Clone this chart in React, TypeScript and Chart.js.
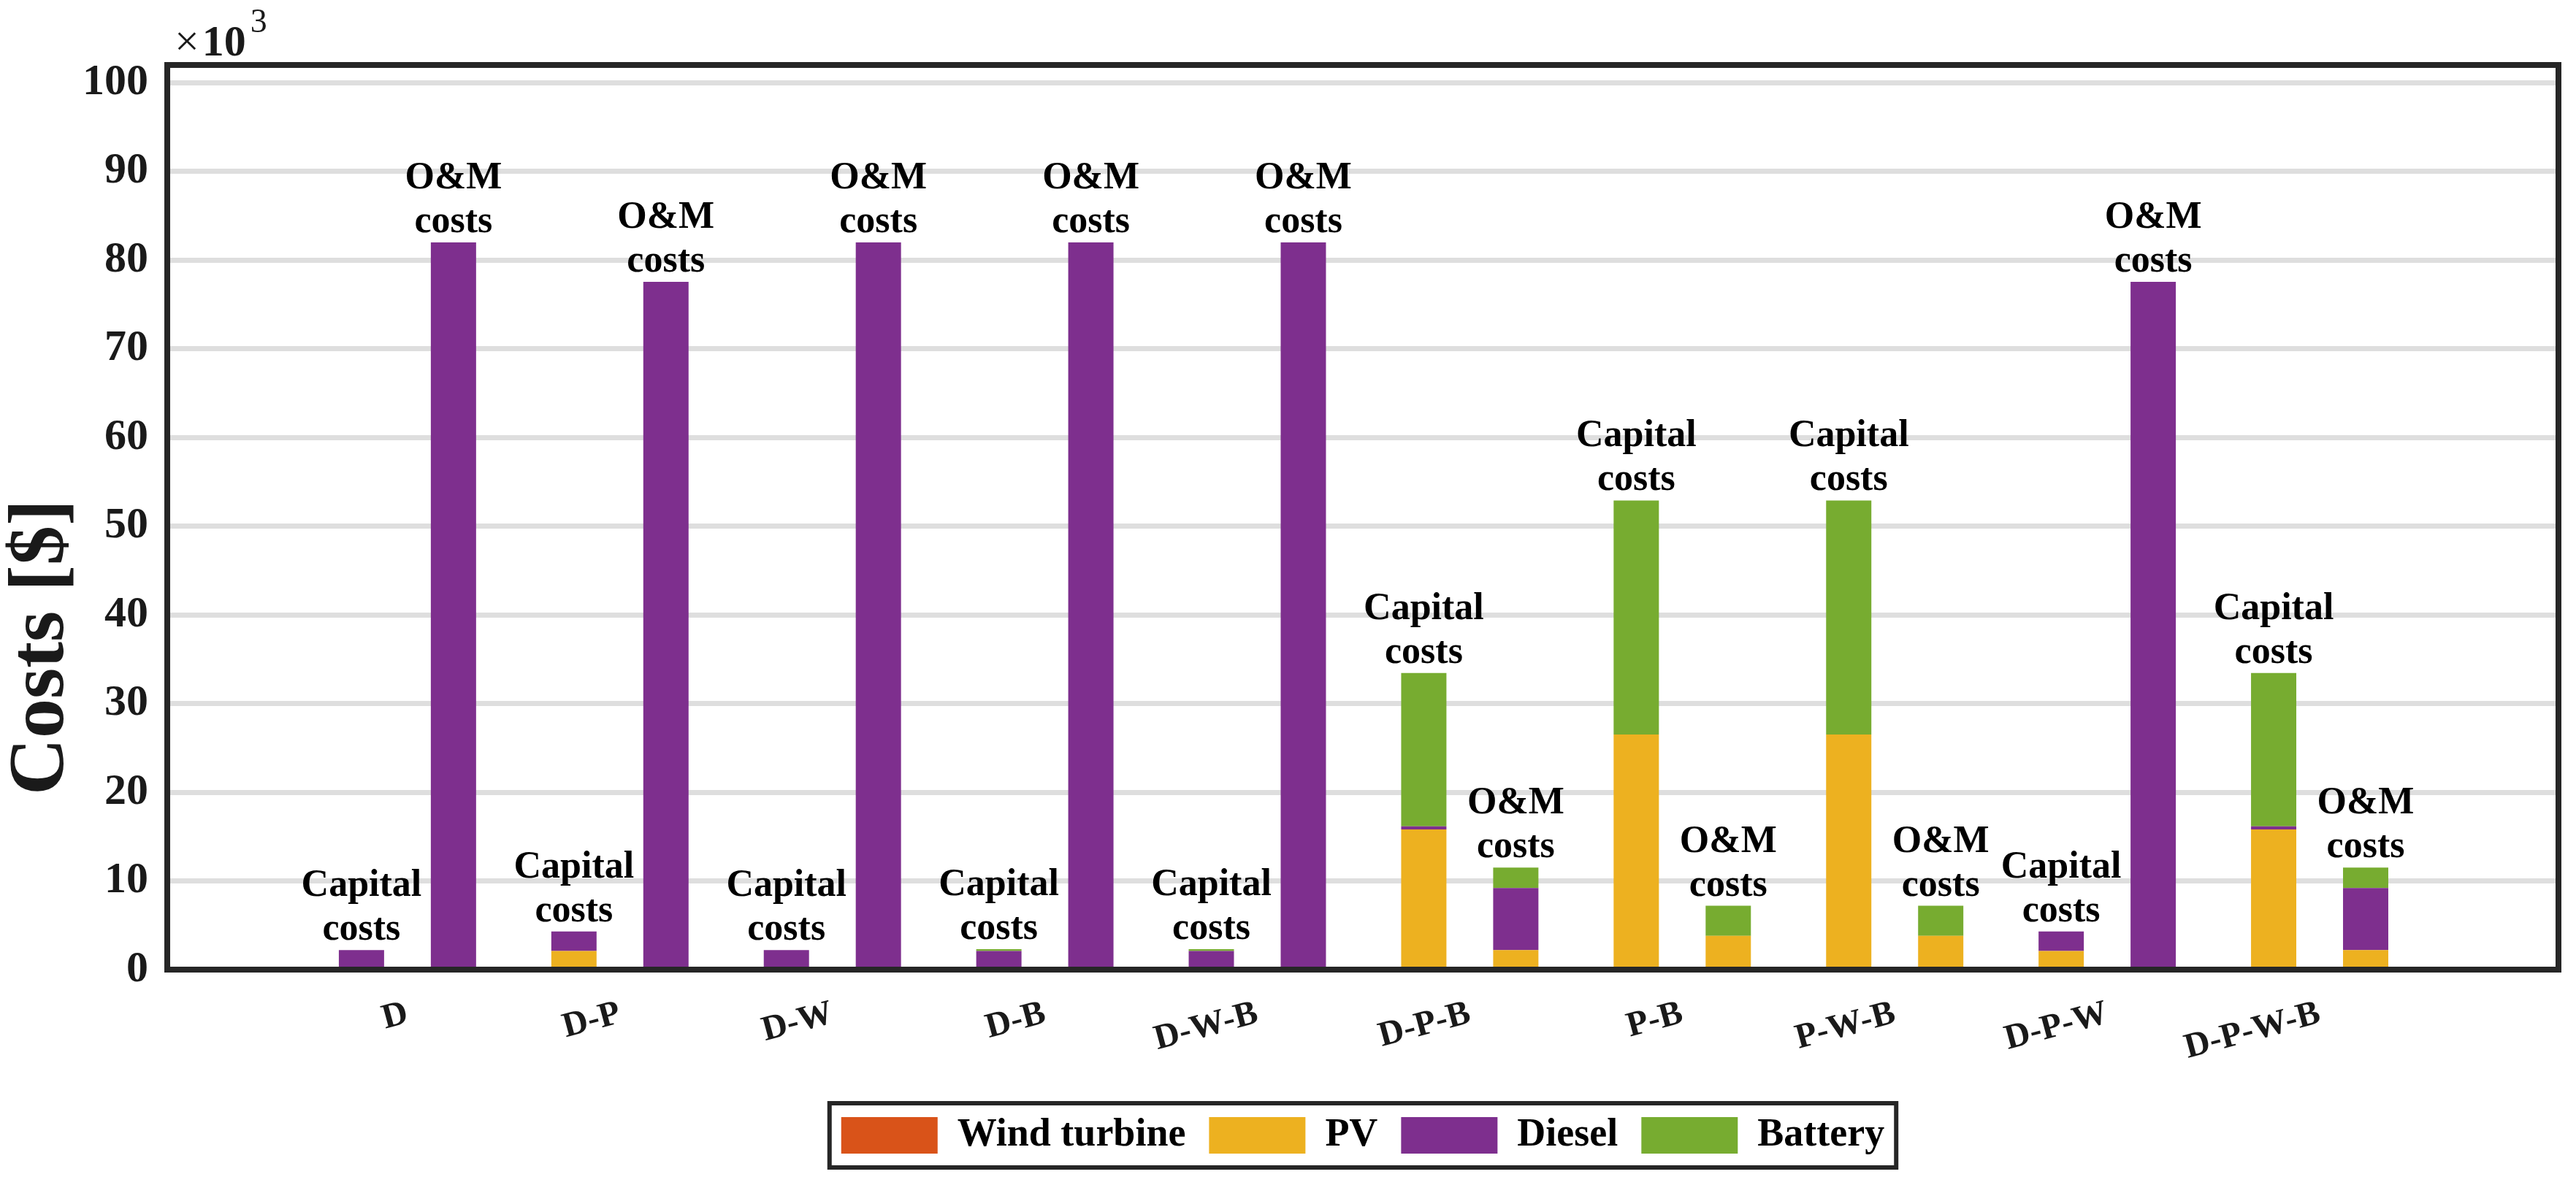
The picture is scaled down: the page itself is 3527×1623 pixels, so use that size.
import React, { useEffect, useRef } from "react";
import { Chart, registerables } from "chart.js";

Chart.register(...registerables);

// ---------- data (values in ×10^3 $) ----------
const groups = ["D", "D-P", "D-W", "D-B", "D-W-B", "D-P-B", "P-B", "P-W-B", "D-P-W", "D-P-W-B"];
const barLabels = ["Capital costs", "O&M costs"];
const components = ["Wind turbine", "PV", "Diesel", "Battery"];
const componentColors = ["#D95319", "#EDB120", "#7E2F8E", "#77AC30"];

const capWind = [0, 0, 0, 0, 0, 0, 0, 0, 0, 0];
const capPV = [0, 2.1, 0, 0, 0, 15.8, 26.5, 26.5, 2.1, 15.8];
const capDiesel = [2.2, 2.2, 2.2, 2.1, 2.1, 0.35, 0, 0, 2.2, 0.35];
const capBattery = [0, 0, 0, 0.2, 0.2, 17.3, 26.4, 26.4, 0, 17.3];

const omWind = [0, 0, 0, 0, 0, 0, 0, 0, 0, 0];
const omPV = [0, 0.25, 0, 0, 0, 2.2, 3.8, 3.8, 0.25, 2.2];
const omDiesel = [82, 77.3, 82, 82, 82, 7.0, 0, 0, 77.3, 7.0];
const omBattery = [0, 0, 0, 0, 0, 2.3, 3.4, 3.4, 0, 2.3];

const yTicks = [0, 10, 20, 30, 40, 50, 60, 70, 80, 90, 100];
const yTitle = "Costs [$]";
const yExponent = "3";

const SERIF = "'Liberation Serif', 'Times New Roman', serif";
const INK = "#1a1a1a";

const capSeries = [capWind, capPV, capDiesel, capBattery];
const omSeries = [omWind, omPV, omDiesel, omBattery];

const framePlugin = {
  id: "frame",
  afterDraw(chart: any) {
    const { ctx, chartArea } = chart;
    const { left, top, right, bottom } = chartArea;
    ctx.save();
    ctx.strokeStyle = "#262626";
    ctx.lineWidth = 8;
    ctx.strokeRect(left, top, right - left, bottom - top);

    // exponent label
    ctx.fillStyle = INK;
    ctx.textBaseline = "alphabetic";
    ctx.textAlign = "left";
    ctx.font = `normal 60px ${SERIF}`;
    const xs = left + 10;
    const base = top - 13;
    ctx.fillText("\u00d7", xs, base);
    const w1 = ctx.measureText("\u00d7").width;
    ctx.font = `bold 60px ${SERIF}`;
    ctx.fillText("10", xs + w1 + 4, base);
    const w2 = ctx.measureText("10").width;
    ctx.font = `normal 46px ${SERIF}`;
    ctx.fillText(yExponent, xs + w1 + 4 + w2 + 6, base - 32);

    // y title
    ctx.save();
    ctx.translate(58, (top + bottom) / 2 + 178);
    ctx.rotate(-Math.PI / 2);
    ctx.font = `bold 108px ${SERIF}`;
    ctx.textAlign = "center";
    ctx.textBaseline = "middle";
    ctx.fillText(yTitle, 0, 0);
    ctx.restore();

    // legend border
    const lg = chart.legend;
    if (lg && lg.legendHitBoxes && lg.legendHitBoxes.length) {
      const hb = lg.legendHitBoxes;
      const l = hb[0].left - 16;
      const last = hb[hb.length - 1];
      const r = last.left + last.width + 16;
      const t = hb[0].top - 17;
      const b = hb[0].top + hb[0].height + 17;
      ctx.lineWidth = 6;
      ctx.strokeStyle = "#262626";
      ctx.strokeRect(l, t, r - l, b - t);
    }
    ctx.restore();
  },
};

const barLabelPlugin = {
  id: "barLabels",
  afterDatasetsDraw(chart: any) {
    const { ctx } = chart;
    const yScale = chart.scales.y;
    ctx.save();
    ctx.fillStyle = "#000";
    ctx.font = `bold 52px ${SERIF}`;
    ctx.textAlign = "center";
    ctx.textBaseline = "alphabetic";
    [capSeries, omSeries].forEach((series, s) => {
      const meta = chart.getDatasetMeta(s * components.length);
      const words = barLabels[s].split(" ");
      groups.forEach((_, i) => {
        const total = series.reduce((acc, arr) => acc + arr[i], 0);
        const el = meta.data[i];
        if (!el) return;
        const x = el.x;
        const yTop = yScale.getPixelForValue(total);
        const lh = 60;
        for (let k = 0; k < words.length; k++) {
          const y = yTop - 14 - (words.length - 1 - k) * lh;
          ctx.fillText(words[k], x, y);
        }
      });
    });
    ctx.restore();
  },
};

export default function App() {
  const canvasRef = useRef<HTMLCanvasElement | null>(null);

  useEffect(() => {
    if (!canvasRef.current) return;
    const datasets: any[] = [];
    [capSeries, omSeries].forEach((series, s) => {
      series.forEach((arr, k) => {
        datasets.push({
          label: components[k],
          data: arr.map((v, i) => ({ x: i + 1, y: v })),
          stack: s === 0 ? "capital" : "om",
          backgroundColor: componentColors[k],
          borderWidth: 0,
          categoryPercentage: 0.866,
          barPercentage: 0.492,
        });
      });
    });

    const chart = new Chart(canvasRef.current, {
      type: "bar",
      data: { datasets },
      options: {
        animation: false,
        responsive: true,
        maintainAspectRatio: false,
        devicePixelRatio: 1,
        layout: { padding: { top: 89, right: 24, left: 0, bottom: 31 } },
        plugins: {
          legend: {
            position: "bottom",
            fullSize: false,
            labels: {
              boxWidth: 132,
              boxHeight: 50,
              padding: 32,
              color: "#000",
              font: { family: SERIF, size: 54, weight: "bold" },
              filter: (item: any) => item.datasetIndex < components.length,
            },
          },
          tooltip: { enabled: false },
        },
        scales: {
          x: {
            type: "linear",
            offset: false,
            min: -0.1306,
            max: 11.124,
            stacked: true,
            grid: { display: false },
            border: { display: false },
            afterBuildTicks: (scale: any) => {
              scale.ticks = groups.map((_, i) => ({ value: i + 1 }));
            },
            afterFit: (scale: any) => {
              scale.height = 168;
            },
            ticks: {
              autoSkip: false,
              minRotation: 15,
              maxRotation: 15,
              padding: 24,
              color: INK,
              font: { family: SERIF, size: 48, weight: "bold" },
              callback: (v: any) => groups[Math.round(v) - 1] ?? "",
            },
          },
          y: {
            type: "linear",
            min: 0,
            max: 102,
            stacked: true,
            border: { display: false },
            grid: { color: "#dedede", lineWidth: 7, drawTicks: false },
            afterBuildTicks: (scale: any) => {
              scale.ticks = yTicks.map((v) => ({ value: v }));
            },
            afterFit: (scale: any) => {
              scale.width = 229;
            },
            ticks: {
              padding: 26,
              color: INK,
              font: { family: SERIF, size: 60, weight: "bold" },
              callback: (v: any) => String(v),
            },
          },
        },
      },
      plugins: [barLabelPlugin, framePlugin],
    });
    return () => chart.destroy();
  }, []);

  return (
    <div style={{ position: "fixed", left: 0, top: 0, width: 3527, height: 1623, background: "#fff" }}>
      <canvas ref={canvasRef} />
    </div>
  );
}
